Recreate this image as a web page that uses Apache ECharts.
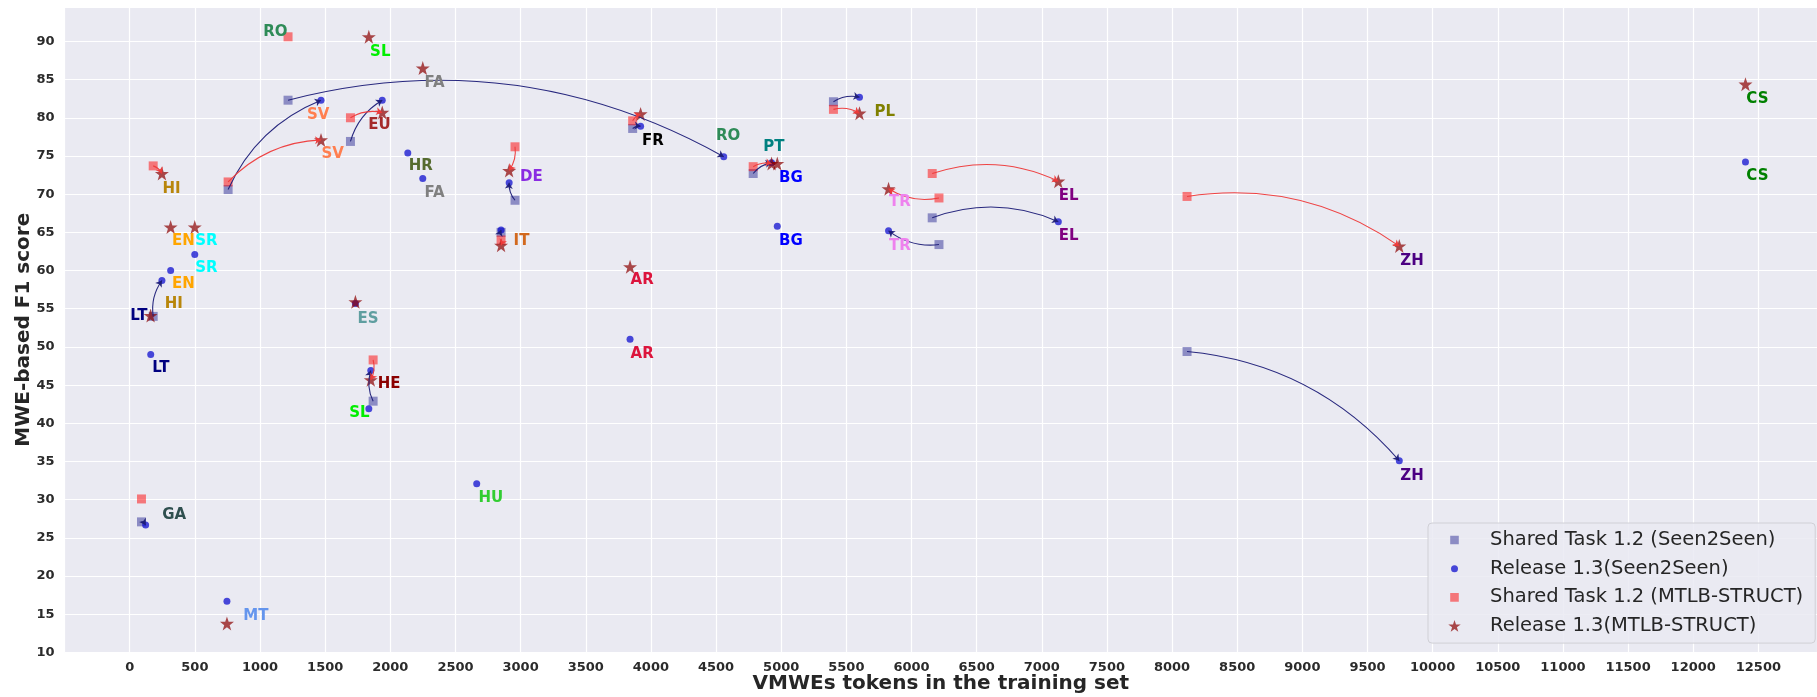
<!DOCTYPE html>
<html>
<head>
<meta charset="utf-8">
<script src="https://cdn.jsdelivr.net/npm/echarts@6/dist/echarts.min.js"></script>
<style>
  html, body { margin: 0; padding: 0; background: #ffffff; }
  #chart { width: 1817px; height: 697px; }
</style>
</head>
<body>
<div id="chart"></div>
<script>
// ---- Data: [language, VMWE tokens in training set, MWE-based F1] ----
const st12Seen2Seen = [
  ['RO', 1215, 82.3], ['SV', 755, 70.6], ['EU', 1694, 76.9], ['DE', 2957, 69.2],
  ['HI', 180, 54.0], ['HE', 1868, 42.9], ['FR', 3860, 78.6], ['PT', 4785, 72.7],
  ['PL', 5401, 82.1], ['TR', 6211, 63.4], ['EL', 6159, 66.9], ['ZH', 8115, 49.4],
  ['GA', 90, 27.1], ['IT', 2850, 65.0]
];
const rel13Seen2Seen = [
  ['RO', 4559, 74.9], ['SV', 1468, 82.3], ['EU', 1938, 82.3], ['DE', 2912, 71.5],
  ['HI', 247, 58.7], ['HE', 1850, 46.9], ['FR', 3921, 78.9], ['PT', 4926, 74.1],
  ['PL', 5601, 82.7], ['TR', 5824, 65.2], ['EL', 7127, 66.4], ['ZH', 9744, 35.1],
  ['GA', 122, 26.7], ['IT', 2850, 65.3], ['LT', 161, 49.0], ['EN', 314, 60.0],
  ['SR', 499, 62.1], ['HR', 2134, 75.4], ['FA', 2249, 72.05], ['SL', 1835, 41.9],
  ['HU', 2663, 32.1], ['MT', 746, 16.7], ['AR', 3840, 51.0], ['BG', 4970, 65.8],
  ['CS', 12401, 74.2], ['ES', 1732, 55.7]
];
const st12Mtlb = [
  ['RO', 1215, 90.6], ['SV', 755, 71.6], ['EU', 1694, 80.0], ['DE', 2957, 76.2],
  ['HI', 180, 73.7], ['HE', 1868, 48.3], ['FR', 3860, 79.6], ['PT', 4785, 73.6],
  ['PL', 5401, 81.1], ['TR', 6211, 69.5], ['EL', 6159, 72.7], ['ZH', 8115, 69.7],
  ['GA', 90, 30.1], ['IT', 2850, 64.0]
];
const rel13Mtlb = [
  ['SV', 1468, 77.1], ['EU', 1938, 80.7], ['DE', 2912, 73.1], ['HI', 247, 72.7],
  ['HE', 1850, 45.7], ['FR', 3921, 80.5], ['PT', 4926, 74.0], ['PL', 5601, 80.6],
  ['TR', 5824, 70.7], ['EL', 7127, 71.7], ['ZH', 9744, 63.2], ['IT', 2850, 63.3],
  ['SL', 1835, 90.6], ['FA', 2249, 86.5], ['EN', 314, 65.7], ['SR', 499, 65.7],
  ['LT', 160, 54.1], ['ES', 1732, 55.9], ['AR', 3840, 60.5], ['BG', 4970, 74.0],
  ['CS', 12401, 84.4], ['MT', 746, 13.8]
];
// Text labels: [text, x (left edge), y (centre)]
const langLabels = [
  ['RO', 1020, 91.2], ['SL', 1841, 88.6], ['FA', 2258, 84.6], ['SV', 1356, 80.4],
  ['SV', 1468, 75.2], ['EU', 1826, 79.0], ['HR', 2137, 73.7], ['FA', 2258, 70.1],
  ['DE', 2992, 72.2], ['IT', 2942, 63.9], ['HI', 247, 70.7], ['EN', 320, 63.9],
  ['SR', 499, 63.9], ['SR', 499, 60.3], ['EN', 320, 58.2], ['HI', 265, 55.6],
  ['LT', 0, 54.1], ['ES', 1744, 53.7], ['LT', 168, 47.2], ['HE', 1900, 45.1],
  ['SL', 1680, 41.4], ['HU', 2672, 30.2], ['GA', 245, 28.0], ['MT', 868, 14.7],
  ['FR', 3928, 76.9], ['RO', 4495, 77.6], ['PT', 4859, 76.1], ['BG', 4979, 72.1],
  ['BG', 4979, 63.9], ['PL', 5712, 80.7], ['TR', 5824, 69.0], ['TR', 5824, 63.2],
  ['EL', 7127, 69.8], ['EL', 7127, 64.5], ['AR', 3840, 58.7], ['AR', 3840, 49.1],
  ['ZH', 9748, 61.3], ['ZH', 9748, 33.1], ['CS', 12404, 82.4], ['CS', 12404, 72.3]
];
const langColors = {
  RO: '#2E8B57', SL: '#00EE00', FA: '#808080', SV: '#FF7F50', EU: '#A52A2A',
  HR: '#556B2F', DE: '#8A2BE2', IT: '#D2691E', HI: '#B8860B', EN: '#FFA500',
  SR: '#00FFFF', LT: '#000080', ES: '#5F9EA0', HE: '#8B0000', HU: '#32CD32',
  GA: '#2F4F4F', MT: '#6495ED', FR: '#000000', PT: '#008080', BG: '#0000FF',
  PL: '#808000', TR: '#EE82EE', EL: '#800080', AR: '#DC143C', ZH: '#4B0082',
  CS: '#008000'
};
const seriesNames = [
  'Shared Task 1.2 (Seen2Seen)', 'Release 1.3(Seen2Seen)',
  'Shared Task 1.2 (MTLB-STRUCT)', 'Release 1.3(MTLB-STRUCT)'
];
const xTickInterval = 500;
const yTickInterval = 5;

// ---- Styles ----
const STAR = 'path://M50,0 L61.8,35.1 L98.1,35.1 L68.8,56.8 L79.4,91 L50,70 L20.6,91 L31.2,56.8 L1.9,35.1 L38.2,35.1 Z';
// legend icons drawn inside a common 13x13 box so each keeps its own size
const LEG_SQUARE = 'path://M0,0 L0.01,0 M13,13 L12.99,13 M2.2,2.2 L10.8,2.2 L10.8,10.8 L2.2,10.8 Z';
const LEG_CIRCLE = 'path://M0,0 L0.01,0 M13,13 L12.99,13 M10,6.5 A3.5,3.5 0 1 1 3,6.5 A3.5,3.5 0 1 1 10,6.5 Z';
const LEG_STAR = 'path://M0,0 L0.01,0 M13,13 L12.99,13 M6.5,0.4 L8.0,4.9 L12.7,4.9 L8.9,7.7 L10.3,12.2 L6.5,9.4 L2.7,12.2 L4.1,7.7 L0.3,4.9 L5.0,4.9 Z';
const FONT = 'DejaVu Sans';
const cS2S12 = 'rgba(0,0,128,0.5)';
const cS2S13 = 'rgba(0,0,205,0.88)';
const cMT12 = 'rgba(255,0,0,0.62)';
const cMT13 = 'rgba(139,0,0,0.88)';

function pts(arr) { return arr.map(d => ({ name: d[0], value: [d[1], d[2]] })); }
function arrows(fromArr, toArr) {
  const out = [];
  fromArr.forEach(f => {
    const t = toArr.find(d => d[0] === f[0]);
    if (t) out.push({ coords: [[f[1], f[2]], [t[1], t[2]]] });
  });
  return out;
}

const chart = echarts.init(document.getElementById('chart'), null, { renderer: 'canvas' });
chart.setOption({
  animation: false,
  backgroundColor: '#ffffff',
  textStyle: { fontFamily: FONT },
  grid: {
    left: 64.6, right: 0, top: 7, bottom: 44.5, show: true,
    backgroundColor: '#EAEAF2', borderWidth: 0,
    containLabel: false, outerBoundsMode: 'none'
  },
  xAxis: {
    type: 'value', min: -500, max: 12950, interval: xTickInterval,
    name: 'VMWEs tokens in the training set', nameLocation: 'middle', nameGap: 21,
    nameMoveOverlap: false,
    nameTextStyle: { fontFamily: FONT, fontSize: 20, fontWeight: 'bold', color: '#262626' },
    axisLine: { show: false }, axisTick: { show: false },
    axisLabel: {
      margin: 9, fontFamily: FONT, fontSize: 13, fontWeight: 'bold', color: '#2b2b2b',
      showMaxLabel: false,
      formatter: v => (v < 0 || v % xTickInterval !== 0) ? '' : String(v)
    },
    splitLine: { show: true, lineStyle: { color: '#ffffff', width: 1.2 } }
  },
  yAxis: {
    type: 'value', min: 10, max: 94.5, interval: yTickInterval,
    name: 'MWE-based F1 score', nameLocation: 'middle', nameGap: 31,
    nameMoveOverlap: false,
    nameTextStyle: { fontFamily: FONT, fontSize: 20, fontWeight: 'bold', color: '#262626' },
    axisLine: { show: false }, axisTick: { show: false },
    axisLabel: {
      margin: 10, fontFamily: FONT, fontSize: 13, fontWeight: 'bold', color: '#2b2b2b',
      showMaxLabel: false,
      formatter: v => (v % yTickInterval !== 0) ? '' : String(v)
    },
    splitLine: { show: true, lineStyle: { color: '#ffffff', width: 1.2 } }
  },
  legend: {
    orient: 'vertical', left: 1428, top: 523,
    padding: [6, 12, 6, 20], itemGap: 6.7, itemWidth: 13, itemHeight: 13,
    backgroundColor: 'rgba(234,234,242,0.85)', borderColor: '#d0d0d6', borderWidth: 1, borderRadius: 4,
    textStyle: { fontFamily: FONT, fontSize: 19.5, color: '#262626', lineHeight: 22, padding: [0, 0, 0, 24] },
    data: [
      { name: seriesNames[0], icon: LEG_SQUARE },
      { name: seriesNames[1], icon: LEG_CIRCLE },
      { name: seriesNames[2], icon: LEG_SQUARE },
      { name: seriesNames[3], icon: LEG_STAR }
    ]
  },
  series: [
    { name: seriesNames[0], type: 'scatter', symbol: 'rect', symbolSize: 9,
      itemStyle: { color: cS2S12 }, data: pts(st12Seen2Seen), z: 3 },
    { name: seriesNames[1], type: 'scatter', symbol: 'circle', symbolSize: 7,
      itemStyle: { color: cS2S13 }, data: pts(rel13Seen2Seen), z: 4 },
    { name: seriesNames[2], type: 'scatter', symbol: 'rect', symbolSize: 9,
      itemStyle: { color: cMT12 }, data: pts(st12Mtlb), z: 5 },
    { name: seriesNames[3], type: 'scatter', symbol: STAR, symbolSize: 14,
      itemStyle: { color: cMT13 }, data: pts(rel13Mtlb), z: 6 },
    { name: 'arrowsSeen', type: 'lines', coordinateSystem: 'cartesian2d', silent: true, z: 7,
      symbol: ['none', 'arrow'], symbolSize: 6,
      lineStyle: { color: '#1e1e78', width: 1.1, curveness: 0.2, opacity: 0.95 },
      data: arrows(st12Seen2Seen, rel13Seen2Seen) },
    { name: 'arrowsMtlb', type: 'lines', coordinateSystem: 'cartesian2d', silent: true, z: 7,
      symbol: ['none', 'arrow'], symbolSize: 6,
      lineStyle: { color: '#ee3a3a', width: 1.1, curveness: 0.2, opacity: 0.95 },
      data: arrows(st12Mtlb, rel13Mtlb) },
    { name: 'langLabels', type: 'scatter', symbolSize: 1, silent: true, z: 8,
      itemStyle: { color: 'rgba(0,0,0,0)' },
      label: {
        show: true, position: 'right', distance: 0, align: 'left', verticalAlign: 'middle',
        fontFamily: FONT, fontSize: 15, fontWeight: 'bold',
        textBorderWidth: 0, textBorderColor: 'transparent', opacity: 1,
        formatter: p => p.value[2]
      },
      data: langLabels.map(l => ({ value: [l[1], l[2], l[0]], label: { color: langColors[l[0]] } }))
    }
  ]
});
</script>
</body>
</html>
